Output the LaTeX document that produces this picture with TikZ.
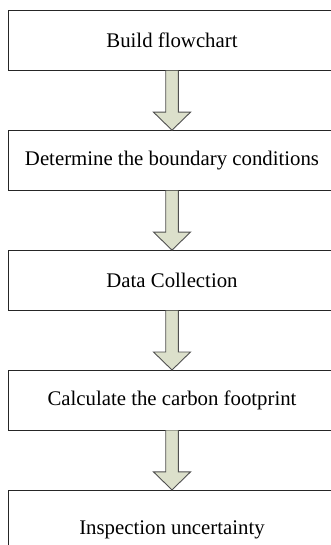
\documentclass[tikz,border=0pt]{standalone}
\usepackage{fontspec}
\setmainfont{Liberation Serif}
\usetikzlibrary{positioning,calc}

\definecolor{arrowfill}{HTML}{DCE0CB}
\definecolor{arrowline}{HTML}{505050}

\tikzset{
    stepbox/.style={draw=black!85, line width=0.9pt, fill=white, minimum width=328pt,
        minimum height=59.5pt, inner sep=0pt, font=\fontsize{20.8}{25}\selectfont},
    blockarrow/.style={draw=arrowline, fill=arrowfill, line width=0.9pt, line join=miter}
}

% block arrow from the bottom of one box to the top of the next
\newcommand{\flowarrow}[2]{%
    \draw[blockarrow] ($(#1.south)+(-6.3,0)$) -- ($(#2.north)+(-6.3,-18)$)
        -- ($(#2.north)+(-18.5,-18)$) -- (#2.north) -- ($(#2.north)+(18.5,-18)$)
        -- ($(#2.north)+(6.3,-18)$) -- ($(#1.south)+(6.3,0)$);
}

\begin{document}
\begin{tikzpicture}[x=1pt, y=-1pt, node distance=59.5pt]
    % Frame
    \clip (0,0) rectangle (331,545);

    % Boxes
    \node[stepbox] (build) at (172,40.5) {Build flowchart};
    \node[stepbox, below=of build] (bound) {Determine the boundary conditions};
    \node[stepbox, below=of bound] (data) {Data Collection};
    \node[stepbox, below=of data] (calc) {Calculate the carbon footprint};
    \node[stepbox, below=of calc, minimum height=80pt] (inspect) {Inspection uncertainty};

    % Arrows
    \flowarrow{build}{bound}
    \flowarrow{bound}{data}
    \flowarrow{data}{calc}
    \flowarrow{calc}{inspect}

\end{tikzpicture}
\end{document}
